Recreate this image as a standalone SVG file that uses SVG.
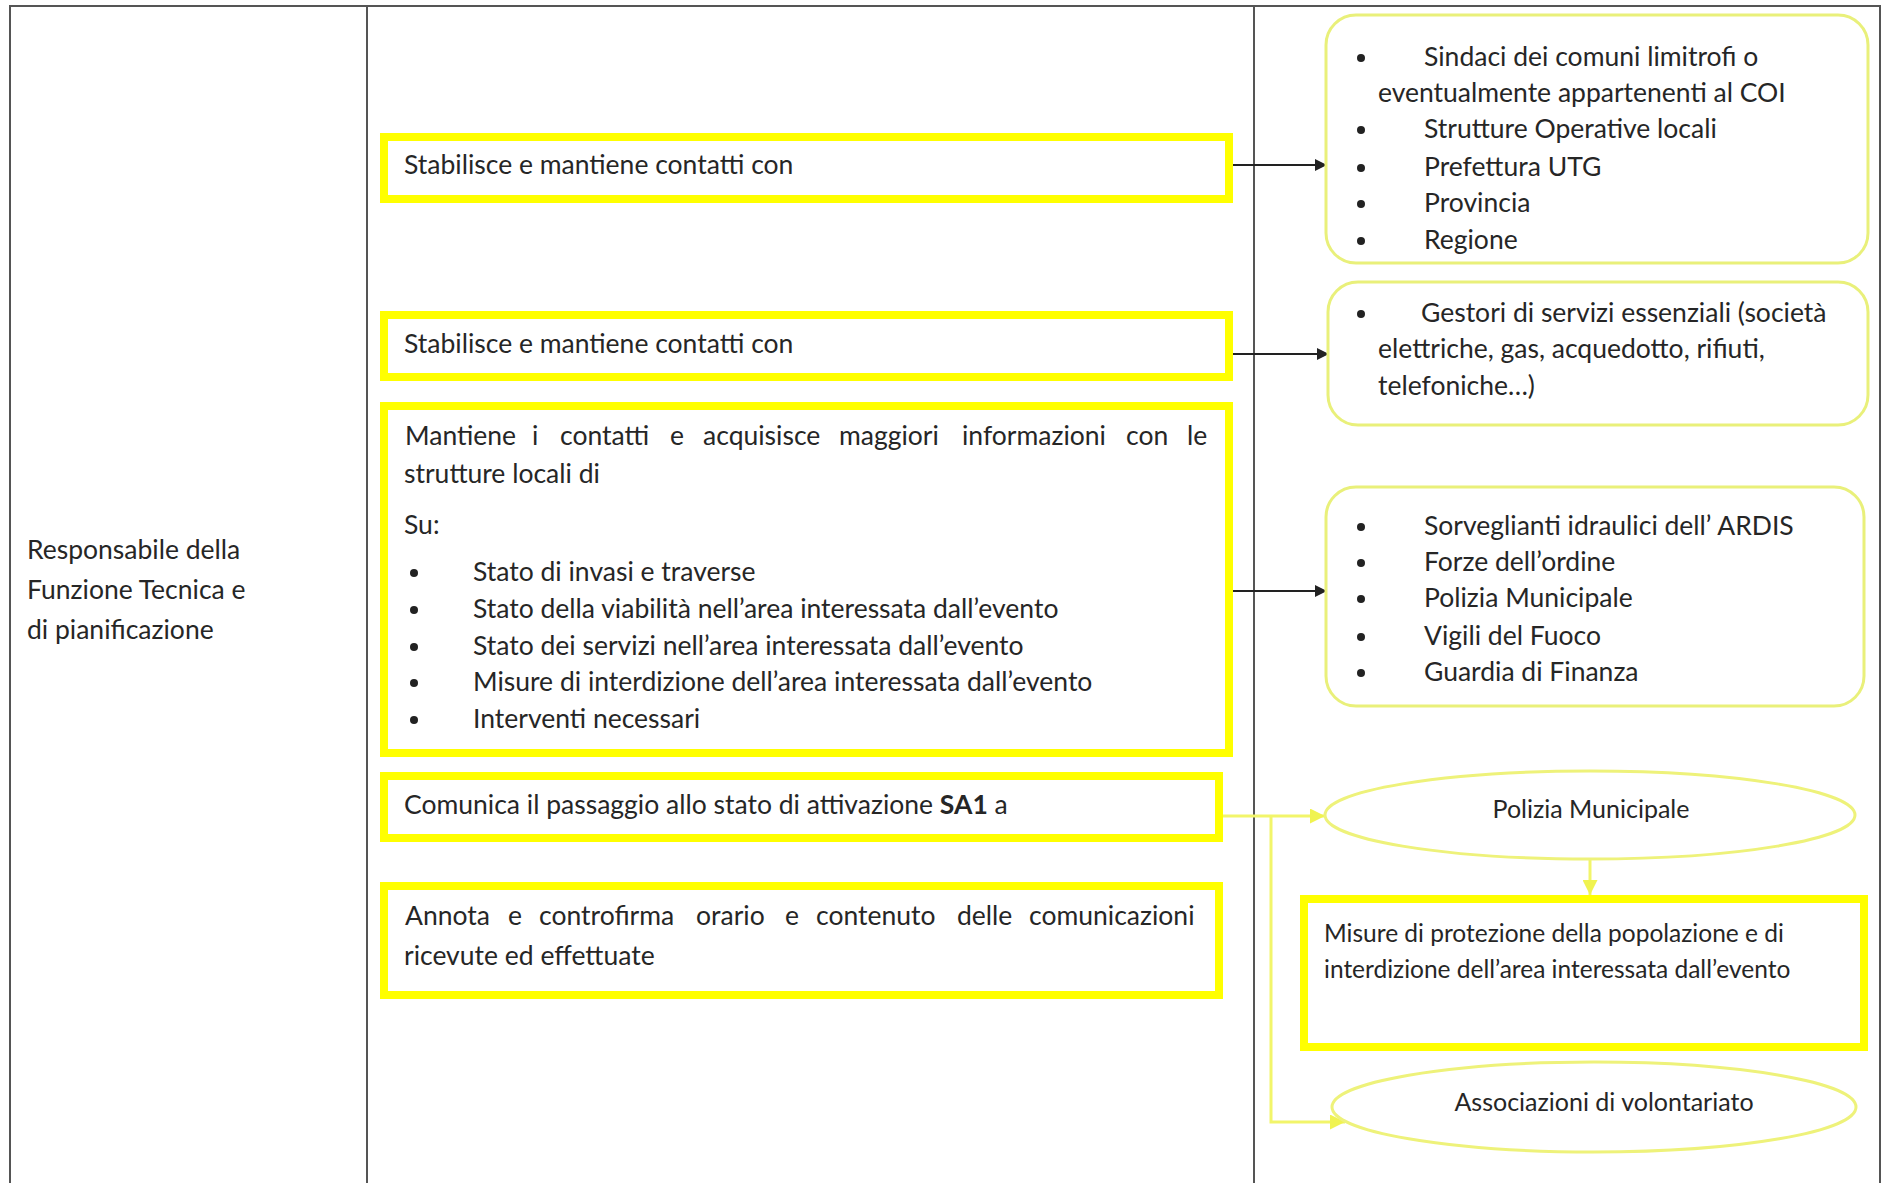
<svg xmlns="http://www.w3.org/2000/svg" width="1892" height="1183" viewBox="0 0 1892 1183">
<defs>
<style>
text{font-family:Lato,"Liberation Sans",sans-serif;font-size:26.5px;fill:#262626}
.frame{fill:none;stroke:#555;stroke-width:2}
.ybox{fill:#fff;stroke:#ffff00;stroke-width:8}
.rbox{fill:#fff;stroke:#e9f07a;stroke-width:3}
.ell{fill:#fff;stroke:#eef27a;stroke-width:3}
.blk{stroke:#222;stroke-width:2;fill:none;marker-end:url(#ab)}
.yl{stroke:#f2f56a;stroke-width:3;fill:none}
.bul{fill:#222}
.sm{font-size:25px}
.md{font-size:24.5px}
</style>
<marker id="ab" viewBox="0 0 10 10" refX="10" refY="5" markerWidth="13" markerHeight="12" markerUnits="userSpaceOnUse" orient="auto"><path d="M0,0 L10,5 L0,10 z" fill="#222"/></marker>
<marker id="ay" viewBox="0 0 10 10" refX="10" refY="5" markerWidth="5" markerHeight="5" orient="auto"><path d="M0,0 L10,5 L0,10 z" fill="#f0f350"/></marker>
</defs>
<rect width="1892" height="1183" fill="#fff"/>
<g id="table">
<rect class="frame" x="10" y="6" width="1870" height="1190"/>
<line class="frame" x1="367" y1="6" x2="367" y2="1183"/>
<line class="frame" x1="1254" y1="6" x2="1254" y2="1183"/>
</g>
<g id="role">
<text x="27" y="559">Responsabile della</text>
<text x="27" y="599">Funzione Tecnica e</text>
<text x="27" y="639">di pianificazione</text>
</g>
<g id="connectors">
<line class="blk" x1="1233" y1="165" x2="1327" y2="165"/>
<line class="blk" x1="1233" y1="354" x2="1329" y2="354"/>
<line class="blk" x1="1233" y1="591" x2="1327" y2="591"/>
<line class="yl" x1="1223" y1="816" x2="1325" y2="816" marker-end="url(#ay)"/>
<polyline class="yl" points="1271,816 1271,1122 1345,1122" marker-end="url(#ay)"/>
<line class="yl" x1="1590" y1="859" x2="1590" y2="895" marker-end="url(#ay)"/>
</g>
<g id="box1">
<rect class="ybox" x="384" y="137" width="845" height="62"/>
<text x="404" y="174">Stabilisce e mantiene contatti con</text>
</g>
<g id="box2">
<rect class="ybox" x="384" y="315" width="845" height="62"/>
<text x="404" y="353">Stabilisce e mantiene contatti con</text>
</g>
<g id="box3">
<rect class="ybox" x="384" y="406" width="845" height="347"/>
<text y="445"><tspan x="405">Mantiene</tspan><tspan x="532">i</tspan><tspan x="560">contatti</tspan><tspan x="670">e</tspan><tspan x="703">acquisisce</tspan><tspan x="839">maggiori</tspan><tspan x="962">informazioni</tspan><tspan x="1126">con</tspan><tspan x="1187">le</tspan></text>
<text x="404" y="483">strutture locali di</text>
<text x="404" y="534">Su:</text>
<circle class="bul" cx="414" cy="573" r="4"/><text x="473" y="581">Stato di invasi e traverse</text>
<circle class="bul" cx="414" cy="610" r="4"/><text x="473" y="618">Stato della viabilità nell’area interessata dall’evento</text>
<circle class="bul" cx="414" cy="647" r="4"/><text x="473" y="655">Stato dei servizi nell’area interessata dall’evento</text>
<circle class="bul" cx="414" cy="683" r="4"/><text x="473" y="691">Misure di interdizione dell’area interessata dall’evento</text>
<circle class="bul" cx="414" cy="720" r="4"/><text x="473" y="728">Interventi necessari</text>
</g>
<g id="box4">
<rect class="ybox" x="384" y="776" width="835" height="62"/>
<text x="404" y="814">Comunica il passaggio allo stato di attivazione <tspan font-weight="bold">SA1</tspan> a</text>
</g>
<g id="box5">
<rect class="ybox" x="384" y="886" width="835" height="109"/>
<text y="925"><tspan x="405">Annota</tspan><tspan x="508">e</tspan><tspan x="539">controfirma</tspan><tspan x="696">orario</tspan><tspan x="785">e</tspan><tspan x="816">contenuto</tspan><tspan x="957">delle</tspan><tspan x="1029">comunicazioni</tspan></text>
<text x="404" y="965">ricevute ed effettuate</text>
</g>
<g id="r1">
<rect class="rbox" x="1326" y="15" width="542" height="248" rx="30"/>
<circle class="bul" cx="1361" cy="58" r="4"/><text x="1424" y="66">Sindaci dei comuni limitrofi o</text>
<text x="1378" y="102">eventualmente appartenenti al COI</text>
<circle class="bul" cx="1361" cy="130" r="4"/><text x="1424" y="138">Strutture Operative locali</text>
<circle class="bul" cx="1361" cy="168" r="4"/><text x="1424" y="176">Prefettura UTG</text>
<circle class="bul" cx="1361" cy="204" r="4"/><text x="1424" y="212">Provincia</text>
<circle class="bul" cx="1361" cy="241" r="4"/><text x="1424" y="249">Regione</text>
</g>
<g id="r2">
<rect class="rbox" x="1328" y="282" width="540" height="143" rx="30"/>
<circle class="bul" cx="1361" cy="314" r="4"/><text x="1421" y="322">Gestori di servizi essenziali (società</text>
<text x="1378" y="358">elettriche, gas, acquedotto, rifiuti,</text>
<text x="1378" y="395">telefoniche…)</text>
</g>
<g id="r3">
<rect class="rbox" x="1326" y="487" width="538" height="219" rx="30"/>
<circle class="bul" cx="1361" cy="527" r="4"/><text x="1424" y="535">Sorveglianti idraulici dell’ ARDIS</text>
<circle class="bul" cx="1361" cy="563" r="4"/><text x="1424" y="571">Forze dell’ordine</text>
<circle class="bul" cx="1361" cy="599" r="4"/><text x="1424" y="607">Polizia Municipale</text>
<circle class="bul" cx="1361" cy="637" r="4"/><text x="1424" y="645">Vigili del Fuoco</text>
<circle class="bul" cx="1361" cy="673" r="4"/><text x="1424" y="681">Guardia di Finanza</text>
</g>
<g id="e1">
<ellipse class="ell" cx="1590" cy="815" rx="265" ry="44"/>
<text class="sm" x="1591" y="818" text-anchor="middle">Polizia Municipale</text>
</g>
<g id="box6">
<rect class="ybox" x="1304" y="899" width="560" height="148"/>
<text class="md" x="1324" y="942">Misure di protezione della popolazione e di</text>
<text class="md" x="1324" y="978">interdizione dell’area interessata dall’evento</text>
</g>
<g id="e2">
<ellipse class="ell" cx="1594" cy="1107" rx="262" ry="45"/>
<text class="sm" x="1604" y="1111" text-anchor="middle">Associazioni di volontariato</text>
</g>
</svg>
